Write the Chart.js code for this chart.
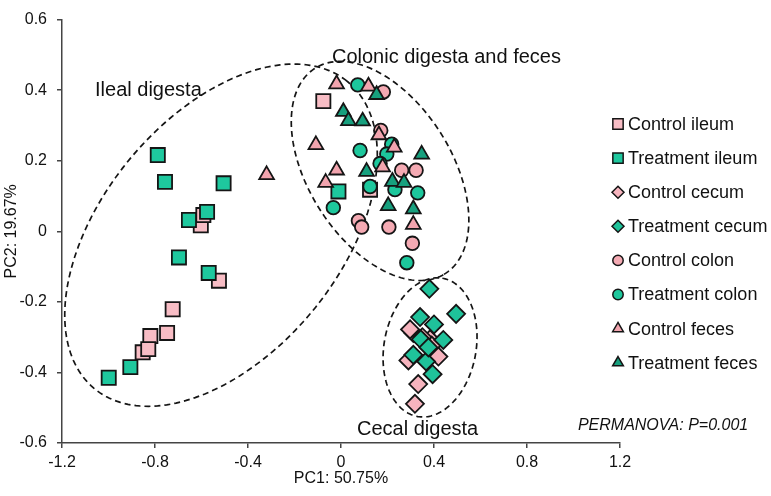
<!DOCTYPE html>
<html>
<head>
<meta charset="utf-8">
<script src="https://cdn.jsdelivr.net/npm/chart.js@4.4.1/dist/chart.umd.min.js"></script>
<style>
  html, body { margin: 0; padding: 0; background: #fff; }
  #wrap { width: 771px; height: 496px; }
</style>
</head>
<body>
<div id="wrap"><canvas id="pca" width="771" height="496"></canvas></div>
<script>
// PCA scores, [PC1, PC2] per sample
const seriesNames = ['Control ileum', 'Treatment ileum', 'Control cecum', 'Treatment cecum',
  'Control colon', 'Treatment colon', 'Control feces', 'Treatment feces'];

const controlIleum = [[-0.603, 0.017], [-0.592, 0.046], [-0.525, -0.140], [-0.724, -0.221],
  [-0.748, -0.288], [-0.820, -0.297], [-0.853, -0.343], [-0.829, -0.334], [-0.076, 0.369], [0.125, 0.118]];
const treatmentIleum = [[-0.788, 0.216], [-0.757, 0.140], [-0.505, 0.136], [-0.654, 0.032],
  [-0.576, 0.055], [-0.697, -0.074], [-0.569, -0.118], [-0.906, -0.385], [-0.999, -0.415], [-0.011, 0.113]];
const controlCecum = [[0.311, -0.288], [0.297, -0.278], [0.383, -0.306], [0.390, -0.324],
  [0.419, -0.355], [0.290, -0.366], [0.332, -0.433], [0.318, -0.489], [0.350, -0.300]];
const treatmentCecum = [[0.380, -0.163], [0.495, -0.234], [0.340, -0.243], [0.400, -0.264],
  [0.343, -0.306], [0.440, -0.308], [0.311, -0.350], [0.366, -0.369], [0.394, -0.405], [0.376, -0.329]];
const controlColon = [[0.182, 0.395], [0.171, 0.286], [0.261, 0.173], [0.323, 0.173],
  [0.075, 0.030], [0.089, 0.012], [0.206, 0.012], [0.307, -0.034]];
const treatmentColon = [[0.072, 0.415], [0.082, 0.229], [0.218, 0.247], [0.197, 0.219],
  [0.168, 0.192], [0.125, 0.127], [0.232, 0.118], [0.330, 0.109], [-0.033, 0.067], [0.283, -0.089]];
const controlFeces = [[-0.019, 0.417], [0.118, 0.411], [-0.108, 0.245], [0.163, 0.273],
  [0.229, 0.238], [-0.019, 0.173], [-0.066, 0.138], [0.179, 0.182], [0.311, 0.019], [-0.320, 0.160]];
const treatmentFeces = [[0.153, 0.387], [0.010, 0.339], [0.032, 0.313], [0.093, 0.312],
  [0.110, 0.169], [0.221, 0.141], [0.271, 0.138], [0.347, 0.218], [0.203, 0.072], [0.311, 0.063]];

const xTicks = [-1.2, -0.8, -0.4, 0, 0.4, 0.8, 1.2];
const yTicks = [-0.6, -0.4, -0.2, 0, 0.2, 0.4, 0.6];

const allSeries = [controlIleum, treatmentIleum, controlCecum, treatmentCecum,
  controlColon, treatmentColon, controlFeces, treatmentFeces];

// look of each group
const shapes = ['rect', 'rect', 'rectRot', 'rectRot', 'circle', 'circle', 'triangle', 'triangle'];
const fills = ['#F8BDC5', '#1EC89E', '#F6B4BE', '#1FC29A', '#F4AAB3', '#1DC79C', '#F2A4AE', '#17A07E'];
const sizes = [10, 10, 9, 9, 6.8, 6.8, 8.5, 8.5];
const legendSizes = [7.3, 7.3, 6, 6, 5.2, 5.2, 6.2, 6.2];

// group ellipses in data units: centre + two semi-axis vectors
const ellipses = [
  { center: [-0.516, -0.011], major: [0.535, 0.440], minor: [0.407, -0.204] },
  { center: [0.168, 0.171], major: [0.275, -0.293], minor: [0.265, 0.103] },
  { center: [0.383, -0.329], major: [0.053, 0.196], minor: [0.195, -0.022] }
];

const notes = [
  { text: 'Ileal digesta', at: [-1.058, 0.384], font: '20px "Liberation Sans", Arial, sans-serif' },
  { text: 'Colonic digesta and feces', at: [-0.039, 0.478], font: '20px "Liberation Sans", Arial, sans-serif' },
  { text: 'Cecal digesta', at: [0.069, -0.578], font: '20px "Liberation Sans", Arial, sans-serif' },
  { text: 'PERMANOVA: P=0.001', at: [1.019, -0.564], font: 'italic 16px "Liberation Sans", Arial, sans-serif' }
];

const datasets = allSeries.map((pts, i) => ({
  label: seriesNames[i],
  data: pts.map(p => ({ x: p[0], y: p[1] })),
  pointStyle: shapes[i],
  pointRadius: sizes[i],
  pointHoverRadius: sizes[i],
  backgroundColor: fills[i],
  borderColor: '#151515',
  borderWidth: 1.8,
  order: allSeries.length - i
}));

const overlay = {
  id: 'overlay',
  beforeDatasetsDraw(chart) {
    const { ctx, scales: { x, y } } = chart;
    ctx.save();
    ctx.strokeStyle = '#151515';
    ctx.lineWidth = 1.7;
    ctx.setLineDash([6, 4]);
    ellipses.forEach(e => {
      ctx.beginPath();
      for (let i = 0; i <= 200; i++) {
        const t = i / 200 * Math.PI * 2;
        const dx = e.center[0] + e.major[0] * Math.cos(t) + e.minor[0] * Math.sin(t);
        const dy = e.center[1] + e.major[1] * Math.cos(t) + e.minor[1] * Math.sin(t);
        const px = x.getPixelForValue(dx), py = y.getPixelForValue(dy);
        if (i === 0) ctx.moveTo(px, py); else ctx.lineTo(px, py);
      }
      ctx.closePath();
      ctx.stroke();
    });
    ctx.restore();
  },
  afterDraw(chart) {
    const { ctx, scales: { x, y } } = chart;
    ctx.save();
    ctx.fillStyle = '#111';
    ctx.textBaseline = 'alphabetic';
    ctx.textAlign = 'left';
    notes.forEach(n => {
      ctx.font = n.font;
      ctx.fillText(n.text, x.getPixelForValue(n.at[0]), y.getPixelForValue(n.at[1]));
    });

    // legend on the right
    const lx = 618, ly = 124, step = 34.1;
    ctx.font = '18px "Liberation Sans", Arial, sans-serif';
    ctx.textBaseline = 'middle';
    seriesNames.forEach((name, i) => {
      const yy = ly + i * step;
      ctx.fillStyle = fills[i];
      ctx.strokeStyle = '#151515';
      ctx.lineWidth = 1.5;
      Chart.helpers.drawPoint(ctx, { pointStyle: shapes[i], radius: legendSizes[i], rotation: 0, borderWidth: 1.5 }, lx, yy);
      ctx.fillStyle = '#111';
      ctx.fillText(name, lx + 10, yy + 1);
    });
    ctx.restore();
  }
};

const fmt = v => Math.abs(v) < 1e-9 ? '0' : String(Math.round(v * 10) / 10);

new Chart(document.getElementById('pca'), {
  type: 'scatter',
  data: { datasets },
  options: {
    responsive: false,
    devicePixelRatio: 1,
    animation: false,
    layout: { padding: { top: 9, right: 151, bottom: 0, left: 0 } },
    plugins: { legend: { display: false }, tooltip: { enabled: false } },
    scales: {
      x: {
        type: 'linear', min: -1.2, max: 1.2,
        afterBuildTicks: s => { s.ticks = xTicks.map(v => ({ value: v })); },
        afterFit: s => { s.height = 53; },
        ticks: { callback: fmt, color: '#111', padding: 5, maxRotation: 0,
          font: { size: 16, family: '"Liberation Sans", Arial, sans-serif' } },
        grid: { drawOnChartArea: false, drawTicks: true, tickLength: 5, color: '#444', lineWidth: 1.5 },
        border: { color: '#444', width: 1.5 },
        title: { display: true, text: 'PC1: 50.75%', color: '#111', padding: { top: 4, bottom: 8 },
          font: { size: 16, family: '"Liberation Sans", Arial, sans-serif' } }
      },
      y: {
        type: 'linear', min: -0.6, max: 0.6,
        afterBuildTicks: s => { s.ticks = yTicks.map(v => ({ value: v })); },
        afterFit: s => { s.width = 62; },
        ticks: { callback: fmt, color: '#111', padding: 10,
          font: { size: 16, family: '"Liberation Sans", Arial, sans-serif' } },
        grid: { drawOnChartArea: false, drawTicks: true, tickLength: 5, color: '#444', lineWidth: 1.5 },
        border: { color: '#444', width: 1.5 },
        title: { display: true, text: 'PC2: 19.67%', color: '#111', padding: { top: 2, bottom: 0 },
          font: { size: 16, family: '"Liberation Sans", Arial, sans-serif' } }
      }
    }
  },
  plugins: [overlay]
});
</script>
</body>
</html>
